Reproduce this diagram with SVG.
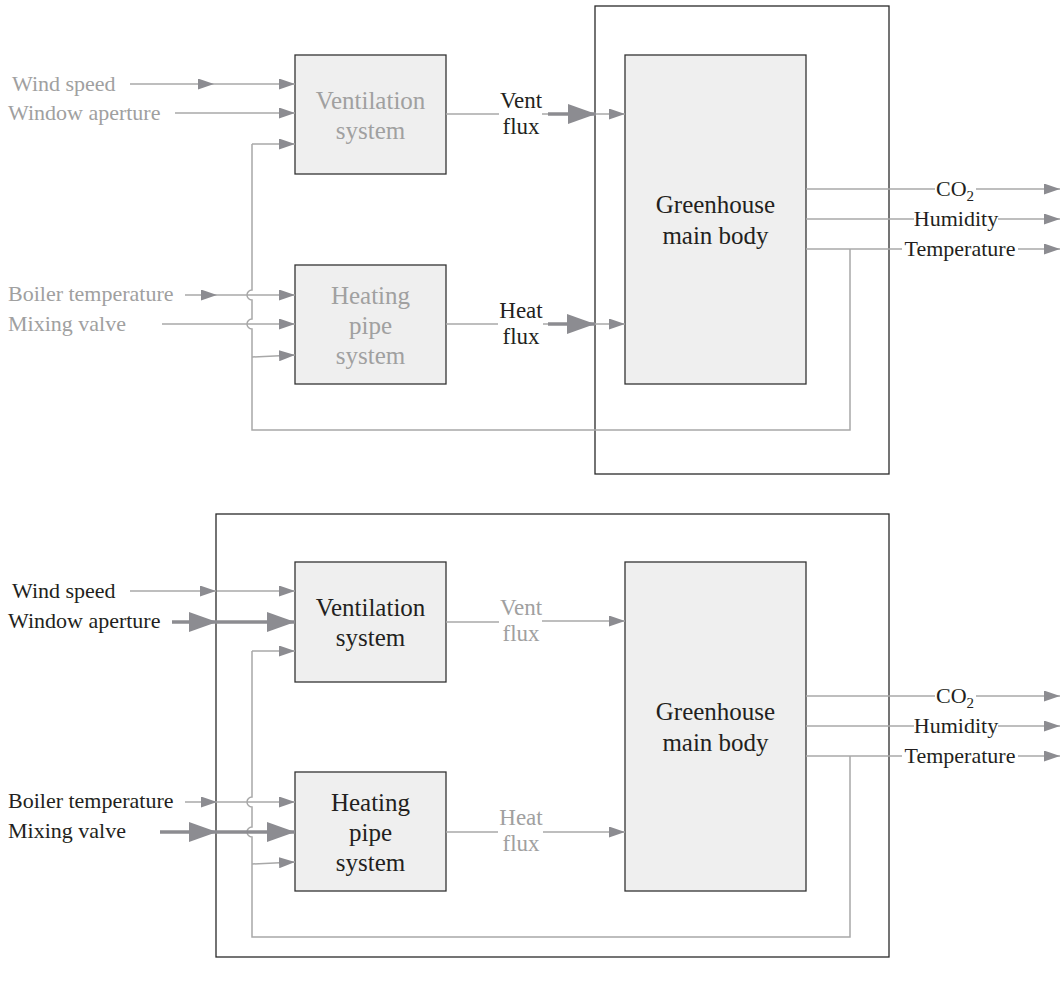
<svg xmlns="http://www.w3.org/2000/svg" width="1062" height="982" viewBox="0 0 1062 982">
<style>
text{font-family:"Liberation Serif","DejaVu Serif",serif;}
.lbl{font-size:22px;fill:#231f20;}
.gl{font-size:22px;fill:#a0a0a0;}
.bl{font-size:25px;fill:#231f20;text-anchor:middle;}
.bg{font-size:25px;fill:#a0a0a0;text-anchor:middle;}
.fl{font-size:23px;fill:#231f20;text-anchor:middle;}
.fg{font-size:23px;fill:#a0a0a0;text-anchor:middle;}
.out{font-size:22px;fill:#231f20;text-anchor:middle;}
.box{fill:#efefef;stroke:#333;stroke-width:1.3;}
.frame{fill:none;stroke:#2a2a2a;stroke-width:1.3;}
.t{fill:none;stroke:#a8a8a8;stroke-width:1.5;}
.k{fill:none;stroke:#8c8c91;stroke-width:3.5;}
.a{marker-end:url(#ah);}
.A{marker-end:url(#ahb);}
</style>
<defs>
<marker id="ah" markerUnits="userSpaceOnUse" markerWidth="16" markerHeight="11" refX="16" refY="5.5" orient="auto" viewBox="0 0 16 11">
<path d="M0,0 L16,5.5 L0,11 z" fill="#8c8c91"/>
</marker>
<marker id="ahb" markerUnits="userSpaceOnUse" markerWidth="28" markerHeight="20" refX="28" refY="10" orient="auto" viewBox="0 0 28 20">
<path d="M0,0 L28,10 L0,20 z" fill="#8c8c91"/>
</marker>
</defs>

<!-- ===== TOP DIAGRAM ===== -->
<g id="top-frame"><rect class="frame" x="595" y="6" width="294" height="468"/></g>
<g id="top-vent"><rect class="box" x="295" y="55" width="151" height="119"/>
<text class="bg" x="370.5" y="109">Ventilation</text><text class="bg" x="370.5" y="139">system</text></g>
<g id="top-heat"><rect class="box" x="295" y="265" width="151" height="119"/>
<text class="bg" x="370.5" y="304">Heating</text><text class="bg" x="370.5" y="334">pipe</text><text class="bg" x="370.5" y="364">system</text></g>
<g id="top-gh"><rect class="box" x="625" y="55" width="181" height="329"/>
<text class="bl" x="715.5" y="213">Greenhouse</text><text class="bl" x="715.5" y="244">main body</text></g>
<g id="top-inputs">
<text class="gl" x="12" y="91">Wind speed</text>
<text class="gl" x="8" y="120">Window aperture</text>
<text class="gl" x="8" y="301">Boiler temperature</text>
<text class="gl" x="8" y="331">Mixing valve</text>
</g>
<g id="top-flux-labels">
<text class="fl" x="521" y="108">Vent</text><text class="fl" x="521" y="134">flux</text>
<text class="fl" x="521" y="318">Heat</text><text class="fl" x="521" y="344">flux</text>
</g>
<g id="top-outputs">
<text class="out" x="955" y="196">CO<tspan font-size="15" dy="5">2</tspan></text>
<text class="out" x="956" y="226">Humidity</text>
<text class="out" x="960" y="256">Temperature</text>
</g>
<g id="top-connectors">
<path class="t a" d="M130,84 H214"/>
<path class="t a" d="M214,84 H295"/>
<path class="t a" d="M175,113 H295"/>
<path class="t a" d="M252,144 H295"/>
<path class="t" d="M252,144 V290 A5,5 0 0 0 252,300 V319 A5,5 0 0 0 252,329 V430 H850 V249"/>
<path class="t a" d="M185,295 H217"/>
<path class="t a" d="M217,295 H295"/>
<path class="t a" d="M162,324 H295"/>
<path class="t a" d="M252,357 L295,355"/>
<path class="t" d="M446,114 H499"/>
<path class="t" d="M542,114 H548"/>
<path class="k A" d="M548,114 H596"/>
<path class="t a" d="M596,114 H625"/>
<path class="t" d="M446,324 H498"/>
<path class="t" d="M543,324 H548"/>
<path class="k A" d="M548,324 H595"/>
<path class="t a" d="M595,324 H625"/>
<path class="t" d="M806,189 H935"/><path class="t a" d="M976,189 H1060"/>
<path class="t" d="M806,219 H914"/><path class="t a" d="M998,219 H1060"/>
<path class="t" d="M806,249 H902"/><path class="t a" d="M1018,249 H1060"/>
</g>

<!-- ===== BOTTOM DIAGRAM ===== -->
<g id="bot-frame"><rect class="frame" x="216" y="514" width="673" height="443"/></g>
<g id="bot-vent"><rect class="box" x="295" y="562" width="151" height="120"/>
<text class="bl" x="370.5" y="616">Ventilation</text><text class="bl" x="370.5" y="646">system</text></g>
<g id="bot-heat"><rect class="box" x="295" y="772" width="151" height="119"/>
<text class="bl" x="370.5" y="811">Heating</text><text class="bl" x="370.5" y="841">pipe</text><text class="bl" x="370.5" y="871">system</text></g>
<g id="bot-gh"><rect class="box" x="625" y="562" width="181" height="329"/>
<text class="bl" x="715.5" y="720">Greenhouse</text><text class="bl" x="715.5" y="751">main body</text></g>
<g id="bot-inputs">
<text class="lbl" x="12" y="598">Wind speed</text>
<text class="lbl" x="8" y="628">Window aperture</text>
<text class="lbl" x="8" y="808">Boiler temperature</text>
<text class="lbl" x="8" y="838">Mixing valve</text>
</g>
<g id="bot-flux-labels">
<text class="fg" x="521" y="615">Vent</text><text class="fg" x="521" y="641">flux</text>
<text class="fg" x="521" y="825">Heat</text><text class="fg" x="521" y="851">flux</text>
</g>
<g id="bot-outputs">
<text class="out" x="955" y="703">CO<tspan font-size="15" dy="5">2</tspan></text>
<text class="out" x="956" y="733">Humidity</text>
<text class="out" x="960" y="763">Temperature</text>
</g>
<g id="bot-connectors">
<path class="t a" d="M130,591 H216"/>
<path class="t a" d="M217,591 H295"/>
<path class="k A" d="M172,622 H217"/>
<path class="k A" d="M217,622 H295"/>
<path class="t a" d="M252,651 H295"/>
<path class="t" d="M252,651 V797 A5,5 0 0 0 252,807 V827 A5,5 0 0 0 252,837 V937 H850 V756"/>
<path class="t a" d="M185,802 H217"/>
<path class="t a" d="M217,802 H295"/>
<path class="k A" d="M160,832 H217"/>
<path class="k A" d="M217,832 H295"/>
<path class="t a" d="M252,864 L295,862"/>
<path class="t" d="M446,622 H499"/>
<path class="t a" d="M542,621 H625"/>
<path class="t" d="M446,832 H498"/>
<path class="t a" d="M543,832 H625"/>
<path class="t" d="M806,696 H935"/><path class="t a" d="M976,696 H1060"/>
<path class="t" d="M806,726 H914"/><path class="t a" d="M998,726 H1060"/>
<path class="t" d="M806,756 H902"/><path class="t a" d="M1018,756 H1060"/>
</g>
</svg>
